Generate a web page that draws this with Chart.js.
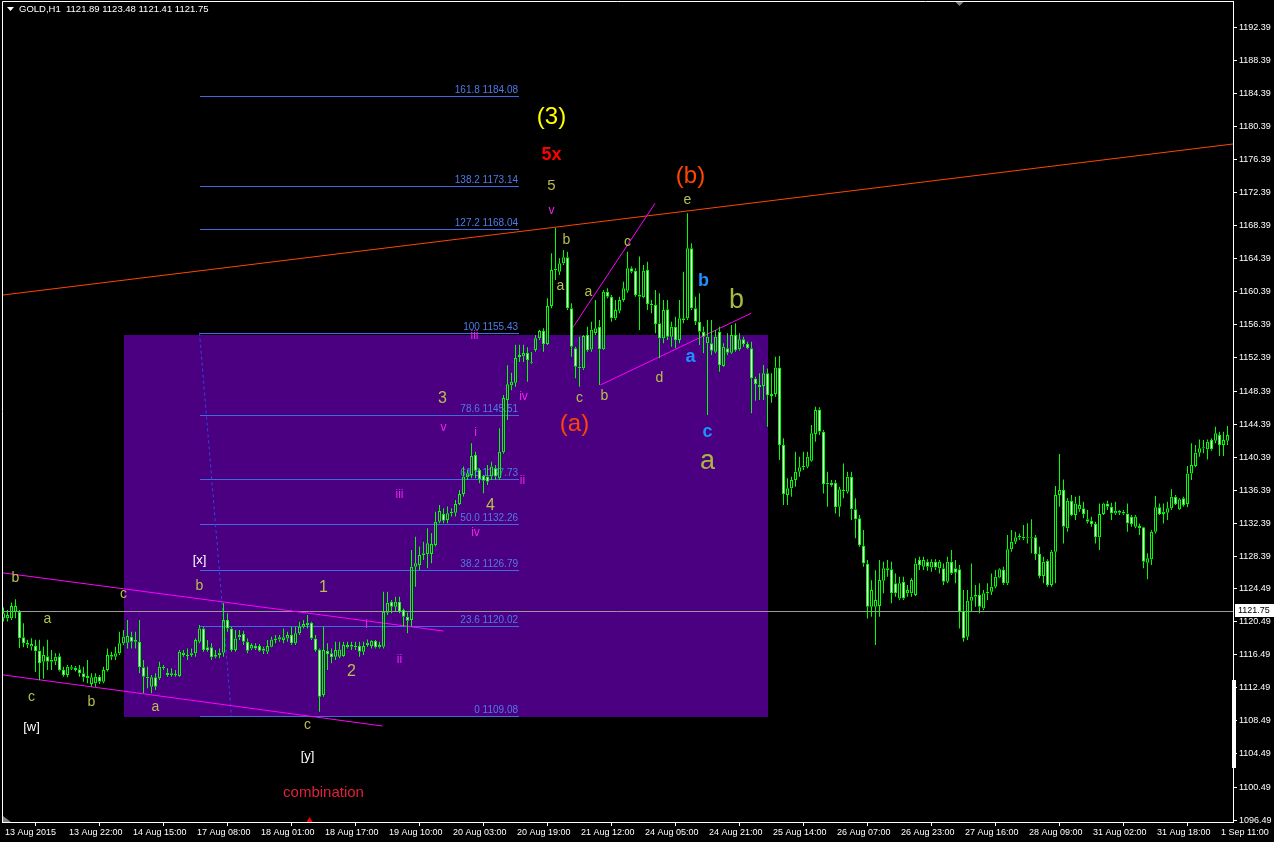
<!DOCTYPE html>
<html><head><meta charset="utf-8">
<script src="https://cdn.jsdelivr.net/npm/chart.js@4.4.1/dist/chart.umd.min.js"></script>
<style>html,body{margin:0;padding:0;background:#000;overflow:hidden}canvas{display:block}</style>
</head><body>
<canvas id="c" width="1274" height="842"></canvas>
<script>
// ---------- DATA (GOLD, H1) ----------
const opens = [
1120.9,1120.9,1120.9,1121.7,1121.7,1118.6,1117.9,1117.5,1117.55,1117.0,
1115.65,1116.3,1115.65,1115.7,1116.3,1114.65,1114.04,1114.8,1114.93,1114.73,
1114.24,1113.92,1112.95,1113.03,1113.84,1113.23,1114.65,1116.26,1116.26,1116.66,
1117.87,1117.95,1118.68,1118.27,1118.07,1114.97,1113.84,1112.63,1113.76,1113.64,
1115.05,1114.32,1114.04,1114.04,1113.92,1116.46,1116.46,1116.46,1116.66,1118.07,
1119.68,1117.39,1117.39,1116.26,1116.46,1116.74,1120.69,1119.68,1117.06,1118.6,
1119.0,1118.07,1117.26,1117.59,1117.55,1117.26,1116.86,1117.47,1118.27,1118.35,
1118.27,1118.47,1118.88,1117.87,1119.08,1119.89,1120.09,1120.37,1118.47,1117.14,
1111.62,1116.98,1116.66,1116.26,1116.26,1116.34,1117.39,1117.67,1117.39,1117.55,
1116.86,1117.67,1117.55,1118.15,1117.39,1117.47,1121.58,1122.91,1122.3,1122.91,
1121.9,1121.1,1120.7,1127.15,1127.35,1128.56,1128.68,1128.68,1129.77,1132.59,
1133.52,1132.79,1133.6,1133.68,1134.73,1135.94,1137.96,1138.24,1140.66,1138.84,
1138.12,1138.04,1138.04,1139.04,1137.83,1141.0,1147.3,1149.1,1149.4,1152.5,
1152.6,1153.0,1151.8,1153.35,1154.77,1155.65,1154.08,1158.68,1163.03,1162.83,
1163.84,1164.56,1158.4,1153.56,1151.34,1151.14,1155.17,1153.4,1155.4,1156.18,
1153.44,1160.4,1159.81,1157.19,1158.11,1159.4,1160.53,1163.23,1162.95,1159.81,
1159.73,1163.03,1158.92,1158.8,1156.58,1154.77,1158.27,1154.97,1156.18,1154.56,
1157.19,1157.19,1165.65,1158.4,1156.78,1155.57,1154.16,1154.16,1153.15,1155.57,
1151.42,1153.56,1153.03,1155.17,1153.44,1154.64,1154.08,1153.56,1149.92,1149.12,
1149.0,1150.53,1147.79,1148.03,1151.25,1141.86,1135.81,1136.62,1137.63,1138.63,
1139.16,1139.24,1139.96,1143.19,1146.17,1143.47,1137.1,1137.3,1137.3,1134.4,
1136.42,1136.21,1138.03,1134.08,1132.99,1129.64,1127.46,1122.3,1122.3,1122.38,
1125.45,1126.94,1126.82,1125.13,1123.31,1125.33,1123.92,1123.92,1123.71,1127.95,
1127.14,1127.75,1127.06,1127.75,1126.94,1126.94,1125.33,1127.75,1126.94,1126.82,
1121.82,1118.67,1123.03,1123.51,1123.71,1122.1,1123.92,1124.12,1124.72,1125.85,
1126.74,1125.13,1129.24,1130.17,1130.69,1130.77,1130.69,1130.57,1130.69,1128.67,
1126.01,1127.87,1124.93,1128.96,1135.81,1136.42,1131.78,1135.13,1133.39,1134.08,
1134.2,1132.87,1132.71,1132.3,1130.69,1133.51,1134.8,1134.4,1133.59,1133.67,
1133.79,1133.59,1133.19,1131.98,1132.06,1131.9,1127.63,1128.03,1131.38,1134.32,
1133.51,1133.67,1134.2,1135.61,1134.08,1135.41,1134.72,1138.43,1139.32,1140.93,
1141.46,1141.34,1142.46,1142.38,1143.07,1141.86,1142.38];
const highs = [
1122.2,1121.9,1122.8,1123.2,1121.9,1120.3,1118.3,1118.5,1118.3,1118.3,
1117.5,1118.3,1117.06,1116.66,1116.66,1115.05,1115.25,1115.25,1115.13,1115.25,
1115.05,1115.85,1114.24,1114.24,1114.04,1115.05,1117.26,1116.86,1117.47,1119.28,
1119.48,1120.69,1119.28,1119.28,1120.69,1115.85,1115.05,1114.04,1114.24,1115.65,
1115.25,1114.85,1114.85,1114.65,1117.06,1117.06,1117.26,1117.26,1118.47,1120.09,
1119.89,1118.27,1117.87,1117.06,1117.26,1122.71,1121.5,1119.89,1119.48,1119.48,
1119.4,1118.47,1117.87,1117.87,1117.79,1117.47,1118.27,1118.68,1118.88,1118.88,
1119.68,1119.28,1119.89,1119.89,1120.49,1120.69,1121.3,1120.49,1118.88,1117.26,
1119.89,1117.87,1117.26,1118.07,1118.07,1118.07,1118.07,1118.07,1118.07,1118.07,
1118.07,1118.35,1118.27,1118.27,1118.07,1124.12,1124.12,1123.11,1123.51,1123.51,
1122.1,1121.6,1129.17,1130.77,1129.57,1130.17,1131.79,1131.18,1133.8,1134.61,
1134.2,1134.41,1134.2,1135.21,1136.42,1139.25,1138.84,1142.07,1141.06,1139.04,
1138.24,1139.45,1139.85,1139.45,1143.88,1147.9,1151.5,1150.6,1154.0,1154.0,
1154.0,1153.7,1153.1,1155.17,1155.77,1155.98,1159.6,1165.05,1168.1,1164.44,
1165.45,1165.25,1159.0,1153.76,1154.97,1155.17,1156.18,1156.78,1159.4,1156.98,
1160.61,1160.81,1160.01,1159.4,1159.81,1161.62,1165.25,1163.44,1163.23,1164.65,
1163.64,1164.04,1159.4,1160.61,1160.21,1159.4,1159.4,1156.78,1157.39,1159.4,
1162.83,1169.9,1166.26,1159.81,1160.21,1156.18,1156.98,1156.98,1155.77,1156.18,
1154.16,1155.37,1156.38,1156.58,1155.37,1154.97,1154.36,1154.36,1150.12,1150.53,
1151.54,1151.13,1150.53,1152.54,1152.62,1142.67,1137.83,1138.03,1141.05,1140.45,
1141.05,1141.05,1144.28,1146.5,1146.42,1143.67,1138.63,1137.63,1137.63,1136.82,
1139.64,1138.63,1138.63,1135.41,1133.39,1131.58,1127.95,1125.5,1126.7,1127.95,
1127.75,1127.95,1127.75,1126.33,1125.93,1125.93,1124.93,1125.73,1128.15,1128.35,
1128.35,1128.03,1128.03,1128.03,1127.95,1127.54,1128.35,1129.16,1127.95,1127.34,
1124.32,1124.32,1127.54,1124.93,1125.13,1124.32,1125.13,1126.33,1126.74,1126.94,
1127.14,1130.97,1131.58,1131.38,1131.17,1132.18,1132.39,1132.87,1130.97,1129.56,
1128.35,1128.03,1129.16,1136.9,1140.77,1137.7,1135.41,1135.81,1135.61,1135.73,
1135.0,1133.99,1133.19,1132.59,1134.8,1134.88,1135.13,1134.88,1135.0,1133.99,
1133.99,1134.8,1133.39,1133.39,1132.38,1131.98,1128.76,1131.58,1135.69,1134.8,
1134.8,1135.0,1136.5,1135.81,1135.41,1135.61,1139.32,1142.06,1141.86,1142.54,
1142.46,1142.54,1142.67,1144.08,1143.47,1143.47,1144.16];
const lows = [
1120.5,1120.5,1120.7,1120.9,1117.3,1117.4,1117.3,1117.0,1114.4,1113.4,
1113.6,1114.65,1114.65,1115.25,1114.45,1113.84,1113.76,1114.65,1114.45,1113.84,
1113.23,1113.03,1112.63,1112.63,1112.95,1113.03,1114.45,1115.85,1115.85,1116.46,
1117.67,1117.26,1117.26,1117.26,1114.24,1111.82,1112.43,1111.82,1112.22,1113.43,
1114.65,1113.84,1113.84,1113.84,1113.84,1116.26,1115.85,1116.26,1116.26,1117.87,
1116.86,1116.86,1115.85,1116.06,1116.06,1116.26,1119.28,1116.86,1116.86,1118.27,
1117.67,1116.66,1117.06,1117.06,1116.86,1116.58,1116.58,1117.39,1117.87,1118.07,
1117.87,1118.07,1117.67,1117.67,1118.88,1119.68,1119.68,1118.27,1116.86,1109.6,
1111.42,1114.65,1115.45,1115.85,1116.06,1116.26,1117.26,1117.06,1117.06,1116.26,
1116.46,1117.47,1117.26,1117.26,1117.26,1117.26,1121.3,1121.5,1121.7,1121.5,
1119.89,1119.08,1119.9,1124.73,1126.75,1127.96,1126.95,1127.55,1129.57,1132.39,
1132.39,1132.39,1133.2,1133.2,1134.61,1135.62,1137.63,1137.83,1137.83,1137.23,
1136.02,1137.03,1137.63,1137.63,1137.63,1140.8,1144.9,1148.5,1148.9,1151.9,
1151.9,1149.5,1151.7,1153.15,1154.56,1153.15,1153.96,1158.4,1161.82,1162.43,
1163.64,1158.19,1152.55,1149.93,1148.92,1150.94,1153.15,1153.15,1155.17,1149.12,
1153.35,1159.6,1156.78,1156.98,1157.79,1159.2,1160.29,1162.63,1159.81,1155.77,
1159.6,1158.19,1157.79,1155.37,1152.35,1154.16,1154.56,1153.76,1153.56,1154.16,
1156.58,1156.98,1158.19,1156.38,1153.96,1152.95,1145.49,1152.75,1152.95,1150.73,
1151.34,1152.75,1152.87,1153.15,1153.27,1153.76,1153.44,1145.7,1147.22,1147.3,
1147.3,1144.08,1146.98,1147.71,1140.04,1134.6,1134.6,1135.61,1136.82,1138.03,
1138.84,1139.04,1139.84,1142.26,1143.07,1136.01,1134.4,1136.82,1133.59,1133.19,
1135.41,1136.01,1132.79,1130.57,1129.56,1127.14,1120.89,1121.1,1117.67,1121.09,
1123.92,1125.93,1122.71,1123.51,1123.11,1123.11,1123.51,1123.51,1123.6,1126.74,
1126.74,1126.66,1126.54,1126.74,1126.33,1124.93,1125.13,1126.13,1125.13,1119.68,
1118.07,1118.27,1121.7,1122.3,1121.5,1121.9,1123.11,1123.71,1124.52,1125.73,
1124.93,1124.93,1128.96,1129.88,1130.37,1130.37,1129.96,1128.76,1127.95,1125.73,
1125.13,1124.72,1124.72,1125.13,1134.4,1129.96,1131.38,1133.27,1132.79,1133.79,
1132.99,1132.38,1131.98,1129.96,1129.16,1133.39,1133.99,1132.79,1133.39,1133.39,
1133.39,1131.38,1131.98,1131.78,1130.97,1126.94,1125.61,1127.34,1131.17,1133.39,
1132.38,1132.79,1133.99,1134.6,1133.99,1134.4,1134.32,1137.63,1139.16,1140.45,
1140.85,1140.12,1141.17,1142.06,1140.53,1140.53,1141.86];
const closes = [
1121.5,1121.3,1122.4,1122.4,1118.5,1117.9,1117.7,1117.8,1116.9,1115.5,
1116.45,1115.65,1115.9,1116.25,1114.6,1114.04,1115.05,1114.97,1114.65,1114.24,
1113.76,1113.64,1113.76,1113.84,1113.23,1114.65,1116.46,1116.46,1116.66,1117.87,
1118.68,1118.76,1118.07,1118.07,1114.97,1113.84,1113.64,1113.76,1112.63,1115.05,
1114.85,1114.04,1114.24,1114.16,1116.86,1116.74,1116.34,1116.66,1118.27,1119.68,
1117.06,1117.06,1116.18,1116.46,1116.74,1120.69,1119.68,1117.06,1118.47,1118.88,
1118.07,1116.98,1117.67,1117.26,1116.98,1116.98,1117.55,1118.35,1118.47,1118.6,
1118.6,1118.88,1117.87,1119.08,1119.89,1120.21,1120.37,1118.47,1117.06,1111.42,
1117.06,1116.58,1116.18,1117.06,1117.14,1117.67,1117.67,1117.47,1117.55,1116.86,
1117.55,1117.95,1118.19,1117.39,1117.67,1121.7,1122.79,1122.3,1122.91,1121.7,
1121.1,1120.61,1127.15,1127.55,1128.56,1128.76,1129.97,1129.89,1132.59,1133.88,
1132.71,1133.6,1133.8,1134.73,1135.94,1138.04,1138.44,1140.54,1138.76,1137.71,
1137.55,1137.43,1139.25,1138.04,1141.06,1147.55,1149.2,1149.5,1152.4,1152.75,
1153.0,1152.15,1151.9,1154.77,1155.65,1154.08,1158.68,1163.03,1163.2,1163.84,
1164.56,1158.4,1153.76,1151.34,1151.14,1155.05,1153.35,1155.8,1156.0,1153.44,
1160.41,1159.8,1157.19,1158.19,1159.4,1160.81,1163.23,1162.83,1160.01,1160.05,
1162.95,1158.92,1158.76,1156.5,1154.77,1158.19,1154.97,1156.18,1154.56,1157.19,
1156.98,1165.65,1158.4,1156.78,1155.57,1154.97,1154.97,1153.27,1154.97,1151.54,
1153.76,1153.03,1155.17,1153.35,1154.64,1154.08,1153.56,1149.93,1149.24,1148.84,
1150.53,1147.91,1148.03,1151.25,1141.86,1135.93,1136.62,1137.63,1138.63,1139.16,
1139.32,1140.45,1143.27,1146.09,1143.47,1137.14,1137.3,1137.0,1134.32,1136.5,
1136.26,1138.03,1134.08,1132.87,1129.76,1127.54,1122.3,1124.32,1123.1,1125.53,
1126.94,1126.74,1123.92,1123.92,1125.13,1123.31,1124.32,1125.53,1127.54,1127.34,
1127.95,1127.14,1127.75,1127.06,1127.75,1125.33,1127.75,1126.33,1126.42,1121.7,
1118.47,1123.03,1123.51,1123.71,1122.3,1123.92,1124.12,1124.72,1125.93,1126.82,
1125.13,1129.24,1130.17,1130.69,1130.85,1130.57,1130.57,1130.69,1128.67,1126.01,
1127.75,1124.93,1128.96,1135.81,1136.42,1131.98,1135.13,1133.39,1134.8,1134.6,
1133.51,1132.59,1132.3,1130.69,1133.51,1134.8,1134.4,1133.59,1133.91,1133.91,
1133.59,1132.38,1132.3,1133.19,1131.78,1127.75,1128.15,1131.38,1134.32,1133.51,
1133.79,1134.2,1135.61,1134.72,1135.29,1134.6,1138.43,1139.44,1140.93,1141.46,
1141.58,1142.26,1141.34,1143.27,1141.86,1142.46,1143.07];

const xTickIndex = [0,16,32,48,64,80,96,112,128,144,160,176,192,208,224,240,256,272,288,304];
const xTickLabels = ["13 Aug 2015","13 Aug 22:00","14 Aug 15:00","17 Aug 08:00","18 Aug 01:00","18 Aug 17:00",
  "19 Aug 10:00","20 Aug 03:00","20 Aug 19:00","21 Aug 12:00","24 Aug 05:00","24 Aug 21:00","25 Aug 14:00",
  "26 Aug 07:00","26 Aug 23:00","27 Aug 16:00","28 Aug 09:00","31 Aug 02:00","31 Aug 18:00","1 Sep 11:00"];
const yTickValues = [1192.39,1188.39,1184.39,1180.39,1176.39,1172.39,1168.39,1164.39,1160.39,1156.39,1152.39,
  1148.39,1144.39,1140.39,1136.39,1132.39,1128.39,1124.49,1120.49,1116.49,1112.49,1108.49,1104.49,1100.49,1096.49];

const bidPrice = 1121.75;
const headerText = "GOLD,H1  1121.89 1123.48 1121.41 1121.75";

// Fibonacci levels
const fibLevels = ["161.8","138.2","127.2","100","78.6","61.8","50.0","38.2","23.6","0"];
const fibPrices = [1184.08,1173.14,1168.04,1155.43,1145.51,1137.73,1132.26,1126.79,1120.02,1109.08];
const fibBars = [49, 128.75];
// Zone rectangle
const zoneBars = [30, 191];
const zonePrices = [1155.11, 1109.0];
// Trend lines [bar1, price1, bar2, price2]
const trendOrange = [-0.4, 1159.99, 307.5, 1178.28];
const chanUpper = [-0.4, 1126.41, 110, 1119.36];
const chanLower = [-0.4, 1114.07, 94.75, 1107.87];
const lineAC = [142.2, 1155.98, 162.9, 1171.1];
const lineBD = [149.2, 1149.12, 186.9, 1157.79];
const fibTrend = [49, 1155.43, 57, 1109.08];

// Wave labels: text, bar, price, color, size, bold
const OL = '#b8bf4a', MG = '#ee22ee', BL = '#1e90ff', OR = '#ff4500', WH = '#ffffff';
const waveLabels = [
 ['(3)',137,1181.5,'#ffff00',24,0],['5x',137,1176.9,'#ff0000',18,1],['5',137,1173.2,OL,15,0],['v',137,1170.2,MG,12,0],
 ['(b)',171.75,1174.3,OR,24,0],['e',171,1171.5,OL,14,0],['b',140.75,1166.7,OL,14,0],['a',139.25,1161.1,OL,14,0],
 ['a',146.25,1160.4,OL,14,0],['c',156,1166.4,OL,14,0],['b',175,1161.7,BL,18,1],['b',183.25,1159.3,'#a8b83e',27,0],
 ['a',171.75,1152.5,BL,18,1],['d',164,1150.0,OL,14,0],['c',144,1147.5,OL,14,0],['b',150.25,1147.8,OL,14,0],
 ['(a)',142.75,1144.3,OR,24,0],['c',176,1143.4,BL,18,1],['a',176,1139.9,'#a8b83e',27,0],
 ['iii',117.75,1155.05,MG,12,0],['iv',130,1147.7,MG,12,0],['3',109.75,1147.5,OL,16,0],['v',110,1143.9,MG,12,0],
 ['i',118,1143.4,MG,12,0],['ii',129.75,1137.5,MG,12,0],['iii',99,1135.9,MG,12,0],['4',121.75,1134.5,OL,16,0],
 ['iv',118,1131.2,MG,12,0],['[x]',49,1127.95,WH,13,0],['b',49,1124.8,OL,14,0],['1',80,1124.6,OL,16,0],
 ['c',30,1123.8,OL,14,0],['b',3,1125.7,OL,14,0],['a',11,1120.8,OL,14,0],['2',87,1114.4,OL,16,0],
 ['ii',99,1115.9,MG,12,0],['i',90.75,1120.1,MG,12,0],['c',7,1111.4,OL,14,0],['b',22,1110.7,OL,14,0],
 ['a',38,1110.1,OL,14,0],['c',76,1108.0,OL,14,0],['[w]',7,1107.75,WH,13,0],['[y]',76,1104.25,WH,13,0],
 ['combination',80,1099.8,'#e0203c',15,0]
];

// ---------- BUILD ----------
const idx = closes.map((_, i) => i);
const bodyData = idx.map(i => ({x: i, y: [opens[i], closes[i]]}));
const upWick = idx.map(i => ({x: i, y: [Math.max(opens[i], closes[i]), highs[i]]}));
const dnWick = idx.map(i => ({x: i, y: [lows[i], Math.min(opens[i], closes[i])]}));
const bodyFill = idx.map(i => closes[i] < opens[i] ? '#ffffff' : 'rgba(0,0,0,0)');
const LIME = '#00ff00';
const FONT = "'Liberation Sans', Arial, sans-serif";

const decor = {
  id: 'decor',
  beforeDatasetsDraw(chart) {
    const {ctx, chartArea: a, scales: {x, y}} = chart;
    const X = v => x.getPixelForValue(v), Y = v => y.getPixelForValue(v);
    ctx.save();
    ctx.beginPath(); ctx.rect(a.left, a.top, a.right - a.left, a.bottom - a.top); ctx.clip();
    // zone
    ctx.fillStyle = '#4b0082';
    const zx0 = Math.round(X(zoneBars[0])), zx1 = Math.round(X(zoneBars[1]));
    const zy0 = Math.round(Y(zonePrices[0])), zy1 = Math.round(Y(zonePrices[1]));
    ctx.fillRect(zx0, zy0, zx1 - zx0, zy1 - zy0);
    // bid line
    ctx.strokeStyle = '#9a9a9a'; ctx.lineWidth = 1;
    let by = Math.round(Y(bidPrice)) + 0.5;
    ctx.beginPath(); ctx.moveTo(a.left, by); ctx.lineTo(a.right, by); ctx.stroke();
    // fib levels
    ctx.strokeStyle = '#4169e1'; ctx.fillStyle = '#4f7ae8';
    ctx.font = '10px ' + FONT; ctx.textAlign = 'right'; ctx.textBaseline = 'bottom';
    const fx0 = Math.round(X(fibBars[0])), fx1 = Math.round(X(fibBars[1]));
    fibPrices.forEach((p, k) => {
      const yy = Math.round(Y(p)) + 0.5;
      ctx.beginPath(); ctx.moveTo(fx0, yy); ctx.lineTo(fx1, yy); ctx.stroke();
      ctx.fillText(fibLevels[k] + ' ' + p.toFixed(2), fx1 - 1, yy - 1);
    });
    // fib trend dashed
    ctx.strokeStyle = '#2a48e0'; ctx.setLineDash([3, 3]);
    ctx.beginPath(); ctx.moveTo(X(fibTrend[0]), Y(fibTrend[1])); ctx.lineTo(X(fibTrend[2]), Y(fibTrend[3])); ctx.stroke();
    ctx.setLineDash([]);
    const seg = (L, col) => {
      ctx.strokeStyle = col; ctx.lineWidth = 1;
      ctx.beginPath(); ctx.moveTo(X(L[0]), Y(L[1])); ctx.lineTo(X(L[2]), Y(L[3])); ctx.stroke();
    };
    seg(trendOrange, '#ff4500');
    seg(chanUpper, '#ff00ff'); seg(chanLower, '#ff00ff');
    seg(lineAC, '#ff00ff'); seg(lineBD, '#ff00ff');
    // wave labels
    ctx.textAlign = 'center'; ctx.textBaseline = 'middle';
    waveLabels.forEach(([t, b, p, c, s, bold]) => {
      ctx.font = (bold ? 'bold ' : '') + s + 'px ' + FONT;
      ctx.fillStyle = c;
      ctx.fillText(t, X(b), Y(p));
    });
    ctx.restore();
  },
  afterDraw(chart) {
    const {ctx, chartArea: a, scales: {x, y}} = chart;
    ctx.save();
    // frame
    ctx.strokeStyle = '#ffffff'; ctx.lineWidth = 1;
    ctx.beginPath(); ctx.moveTo(a.left + 0.5, a.bottom); ctx.lineTo(a.left + 0.5, a.top + 0.5); ctx.lineTo(a.right, a.top + 0.5); ctx.stroke();
    // header
    ctx.fillStyle = '#ffffff';
    ctx.beginPath(); ctx.moveTo(7, 7); ctx.lineTo(14, 7); ctx.lineTo(10.5, 11); ctx.closePath(); ctx.fill();
    ctx.font = '9.5px ' + FONT; ctx.textAlign = 'left'; ctx.textBaseline = 'middle';
    ctx.fillText(headerText, 19, 9);
    // bid price label
    ctx.font = '9px ' + FONT;
    const by = Math.round(y.getPixelForValue(bidPrice));
    ctx.fillStyle = '#ffffff'; ctx.fillRect(a.right + 2, by - 7, 1274 - a.right - 2, 13);
    ctx.fillStyle = '#000000'; ctx.fillText(bidPrice.toFixed(2), a.right + 5, by);
    // scrollbar marker on price axis
    ctx.fillStyle = '#ffffff';
    const s0 = Math.round(y.getPixelForValue(1113.45)), s1 = Math.round(y.getPixelForValue(1102.8));
    ctx.fillRect(a.right - 1, s0, 4, s1 - s0);
    // chart shift marker
    ctx.fillStyle = '#808080';
    const mx = x.getPixelForValue(239);
    ctx.beginPath(); ctx.moveTo(mx - 4, a.top + 1); ctx.lineTo(mx + 4, a.top + 1); ctx.lineTo(mx, a.top + 5); ctx.closePath(); ctx.fill();
    ctx.beginPath(); ctx.moveTo(a.left + 1, a.bottom); ctx.lineTo(a.left + 9, a.bottom); ctx.lineTo(a.left + 1, a.bottom - 6); ctx.closePath(); ctx.fill();
    ctx.fillStyle = '#ff0000';
    const rx = x.getPixelForValue(76.5);
    ctx.beginPath(); ctx.moveTo(rx - 3, a.bottom); ctx.lineTo(rx + 3, a.bottom); ctx.lineTo(rx, a.bottom - 5); ctx.closePath(); ctx.fill();
    ctx.restore();
  }
};

new Chart(document.getElementById('c'), {
  type: 'bar',
  data: {
    datasets: [
      {data: bodyData, backgroundColor: bodyFill, borderColor: LIME, borderWidth: 1, borderSkipped: false,
       barThickness: 3, grouped: false, minBarLength: 1, inflateAmount: 0},
      {data: upWick, backgroundColor: LIME, borderWidth: 0, barThickness: 1, grouped: false, inflateAmount: 0},
      {data: dnWick, backgroundColor: LIME, borderWidth: 0, barThickness: 1, grouped: false, inflateAmount: 0}
    ]
  },
  options: {
    responsive: false, animation: false, devicePixelRatio: 1,
    layout: {padding: {left: 2, top: 1, right: 0, bottom: 0}, autoPadding: false},
    plugins: {legend: {display: false}, tooltip: {enabled: false}},
    scales: {
      x: {
        type: 'linear', min: -0.375, max: 307.375, offset: false, bounds: 'data',
        afterFit: s => { s.height = 20; s.paddingLeft = 0; s.paddingRight = 0; },
        afterBuildTicks: s => { s.ticks = xTickIndex.map(v => ({value: v})); },
        grid: {drawOnChartArea: false, tickLength: 4, color: '#ffffff'},
        border: {color: '#ffffff', width: 1},
        ticks: {color: '#ffffff', font: {family: FONT, size: 9}, align: 'start', padding: 1, labelOffset: 1.5,
                maxRotation: 0, autoSkip: false,
                callback: v => xTickLabels[xTickIndex.indexOf(v)]}
      },
      y: {
        type: 'linear', position: 'right', min: 1096.26, max: 1195.57, bounds: 'data',
        afterFit: s => { s.width = 41; s.paddingTop = 0; s.paddingBottom = 0; },
        afterBuildTicks: s => { s.ticks = yTickValues.map(v => ({value: v})); },
        grid: {drawOnChartArea: false, tickLength: 4, color: '#ffffff'},
        border: {color: '#ffffff', width: 1},
        ticks: {color: '#ffffff', font: {family: FONT, size: 9}, padding: 2,
                callback: v => Number(v).toFixed(2)}
      }
    }
  },
  plugins: [decor]
});
</script>
</body></html>
